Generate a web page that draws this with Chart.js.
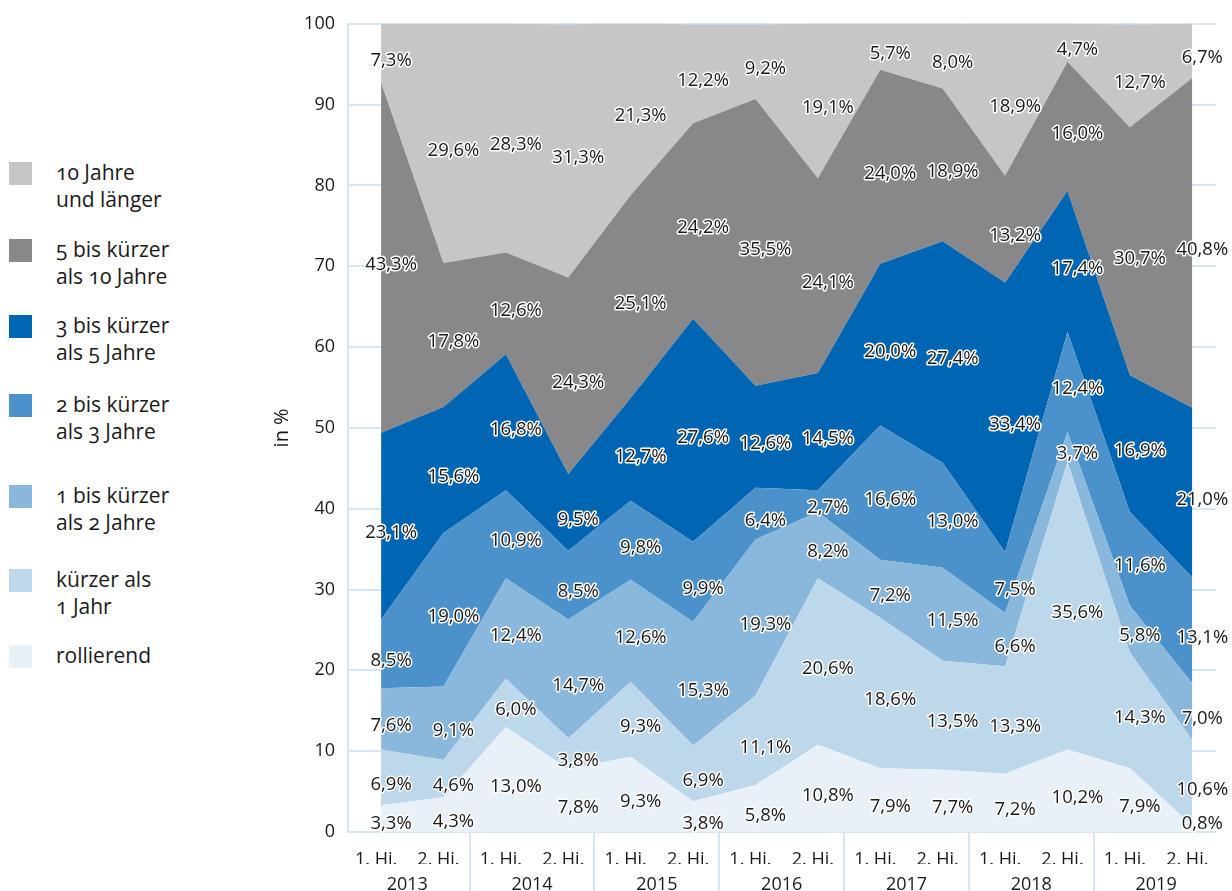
<!DOCTYPE html>
<html lang="de">
<head>
<meta charset="utf-8">
<title>Restlaufzeiten in %</title>
<script src="https://cdn.jsdelivr.net/npm/chart.js@4.4.1/dist/chart.umd.min.js"></script>
<style>
  html, body { margin: 0; padding: 0; background: #fff; }
  body { width: 1232px; height: 891px; position: relative; overflow: hidden;
         font-family: 'Open Sans', sans-serif; color: #1a1a1a; }
  #chartBox { position: absolute; left: 0; top: 0; width: 1232px; height: 891px; }
  #legend { position: absolute; left: 9px; top: 0; }
  .item { position: absolute; left: 0; width: 220px; }
  .swatch { position: absolute; left: 0; top: 0; width: 23px; height: 23px; }
  .label { position: absolute; left: 47px; top: -3px; font-size: 21px; line-height: 27px;
           white-space: pre; font-variant-numeric: oldstyle-nums; }
</style>
</head>
<body>
<div id="legend"></div>
<div id="chartBox"><canvas id="chart"></canvas></div>
<script>
// half years 2013 - 2019
const years = ['2013', '2014', '2015', '2016', '2017', '2018', '2019'];
const halves = ['1. Hj.', '2. Hj.'];

// shares per maturity band, bottom to top of the stack
const rollierend   = [3.3, 4.3, 13.0, 7.8, 9.3, 3.8, 5.8, 10.8, 7.9, 7.7, 7.2, 10.2, 7.9, 0.8];
const unter1       = [6.9, 4.6, 6.0, 3.8, 9.3, 6.9, 11.1, 20.6, 18.6, 13.5, 13.3, 35.6, 14.3, 10.6];
const einsBisZwei  = [7.6, 9.1, 12.4, 14.7, 12.6, 15.3, 19.3, 8.2, 7.2, 11.5, 6.6, 3.7, 5.8, 7.0];
const zweiBisDrei  = [8.5, 19.0, 10.9, 8.5, 9.8, 9.9, 6.4, 2.7, 16.6, 13.0, 7.5, 12.4, 11.6, 13.1];
const dreiBisFuenf = [23.1, 15.6, 16.8, 9.5, 12.7, 27.6, 12.6, 14.5, 20.0, 27.4, 33.4, 17.4, 16.9, 21.0];
const fuenfBisZehn = [43.3, 17.8, 12.6, 24.3, 25.1, 24.2, 35.5, 24.1, 24.0, 18.9, 13.2, 16.0, 30.7, 40.8];
const zehnUndMehr  = [7.3, 29.6, 28.3, 31.3, 21.3, 12.2, 9.2, 19.1, 5.7, 8.0, 18.9, 4.7, 12.7, 6.7];

const yTicks = [0, 10, 20, 30, 40, 50, 60, 70, 80, 90, 100];

const series = [
  { name: 'rollierend',                values: rollierend,   color: '#e8f0f8' },
  { name: 'kürzer als\n1 Jahr',        values: unter1,       color: '#bdd7eb' },
  { name: '1 bis kürzer\nals 2 Jahre', values: einsBisZwei,  color: '#8ab7dc' },
  { name: '2 bis kürzer\nals 3 Jahre', values: zweiBisDrei,  color: '#4b91ca' },
  { name: '3 bis kürzer\nals 5 Jahre', values: dreiBisFuenf, color: '#0066b3' },
  { name: '5 bis kürzer\nals 10 Jahre', values: fuenfBisZehn, color: '#88888a' },
  { name: '10 Jahre\nund länger',      values: zehnUndMehr,  color: '#c6c6c8' }
];

const gridBlue = '#d8e6f4';
const textColor = '#1a1a1a';
const font = "'Open Sans', sans-serif";

// legend on the left, top entry = top of the stack
const legendTops = [162, 239, 315, 394, 485, 569, 645];
const legend = document.getElementById('legend');
series.slice().reverse().forEach((s, i) => {
  const item = document.createElement('div');
  item.className = 'item';
  item.style.top = legendTops[i] + 'px';
  item.innerHTML = '<div class="swatch" style="background:' + s.color + '"></div>' +
                   '<div class="label">' + s.name + '</div>';
  legend.appendChild(item);
});

// value labels in the middle of each band, black with white halo
const bandLabels = {
  id: 'bandLabels',
  afterDatasetsDraw(chart) {
    const ctx = chart.ctx;
    const zero = chart.scales.y.getPixelForValue(0);
    ctx.save();
    ctx.font = '18.5px ' + font;
    ctx.textAlign = 'center';
    ctx.textBaseline = 'middle';
    ctx.lineJoin = 'round';
    chart.data.datasets.forEach((ds, d) => {
      const pts = chart.getDatasetMeta(d).data;
      const below = d > 0 ? chart.getDatasetMeta(d - 1).data : null;
      pts.forEach((p, i) => {
        const bottom = below ? below[i].y : zero;
        const y = Math.min((p.y + bottom) / 2 + 7, zero - 8);
        const text = series[d].values[i].toFixed(1).replace('.', ',') + '%';
        ctx.strokeStyle = '#fff';
        ctx.lineWidth = 3;
        ctx.strokeText(text, p.x + 10, y);
        ctx.fillStyle = textColor;
        ctx.fillText(text, p.x + 10, y);
      });
    });
    ctx.restore();
  }
};

// thin separators between the years under the axis
const yearDividers = {
  id: 'yearDividers',
  afterDraw(chart) {
    const x = chart.scales.x;
    const ctx = chart.ctx;
    ctx.save();
    ctx.strokeStyle = gridBlue;
    ctx.lineWidth = 2;
    for (let k = 1; k < years.length; k++) {
      const px = Math.round(x.getPixelForValue(2 * k - 0.5)) - 5;
      ctx.beginPath();
      ctx.moveTo(px, chart.chartArea.bottom);
      ctx.lineTo(px, chart.height);
      ctx.stroke();
    }
    ctx.restore();
  }
};

const periodCount = years.length * halves.length;
const xRange = { min: -0.53, max: periodCount - 1 + 0.38 };

new Chart(document.getElementById('chart'), {
  type: 'line',
  data: {
    datasets: series.map((s, d) => ({
      label: s.name,
      data: s.values.map((v, i) => ({ x: i, y: v })),
      backgroundColor: s.color,
      borderWidth: 0,
      pointRadius: 0,
      tension: 0,
      fill: d === 0 ? 'origin' : '-1'
    }))
  },
  options: {
    responsive: true,
    maintainAspectRatio: false,
    animation: false,
    events: [],
    layout: { padding: { left: 270, right: 16, top: 20, bottom: 0 } },
    plugins: { legend: { display: false }, tooltip: { enabled: false } },
    scales: {
      x: {
        type: 'linear',
        position: 'bottom',
        min: xRange.min,
        max: xRange.max,
        grid: { display: false },
        border: { display: false },
        afterBuildTicks: axis => { axis.ticks = Array.from({ length: periodCount }, (_, i) => ({ value: i })); },
        afterFit: axis => { axis.height = 32; },
        ticks: {
          autoSkip: false, maxRotation: 0, padding: 9, labelOffset: -5,
          color: textColor, font: { family: font, size: 18 },
          callback: v => halves[v % 2]
        }
      },
      x2: {
        type: 'linear',
        position: 'bottom',
        min: xRange.min,
        max: xRange.max,
        grid: { display: false },
        border: { display: false },
        afterBuildTicks: axis => { axis.ticks = years.map((_, k) => ({ value: 2 * k + 0.5 })); },
        afterFit: axis => { axis.height = 27; },
        ticks: {
          autoSkip: false, maxRotation: 0, padding: 2, labelOffset: -5,
          color: textColor, font: { family: font, size: 18 },
          callback: v => years[(v - 0.5) / 2]
        }
      },
      y: {
        stacked: true,
        min: 0,
        max: 100,
        afterBuildTicks: axis => { axis.ticks = yTicks.map(v => ({ value: v })); },
        afterFit: axis => { axis.width = 78; },
        grid: { color: gridBlue, lineWidth: 2, drawTicks: false },
        border: { display: true, color: gridBlue, width: 2 },
        ticks: { padding: 13, color: textColor, font: { family: font, size: 18 } },
        title: {
          display: true, text: 'in %', color: textColor,
          font: { family: font, size: 20 }, padding: 0
        }
      }
    }
  },
  plugins: [bandLabels, yearDividers]
});
</script>
</body>
</html>
